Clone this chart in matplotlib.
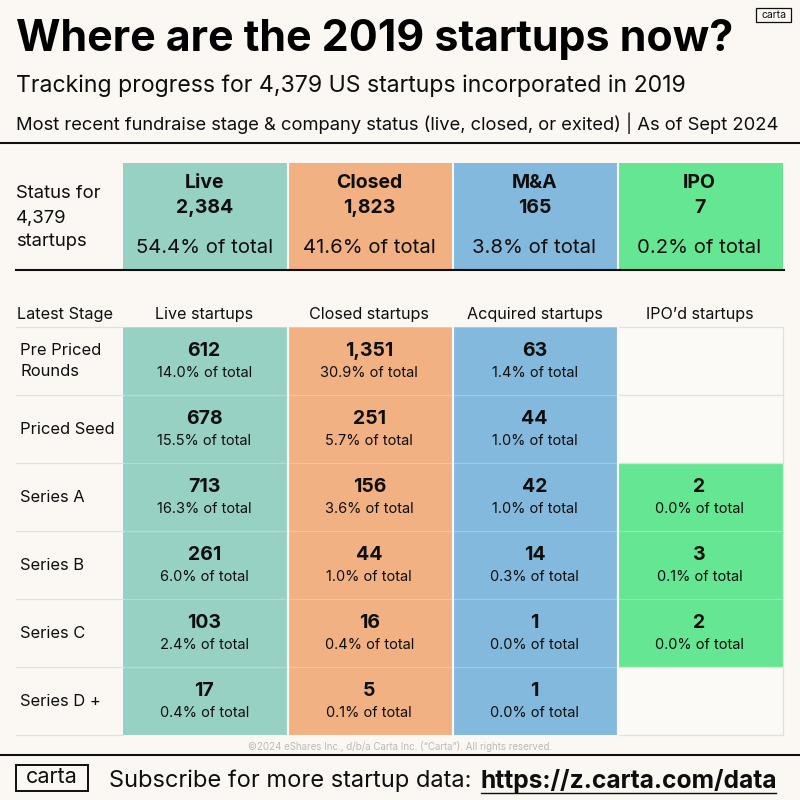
import matplotlib
matplotlib.use("Agg")
from matplotlib import pyplot as plt
from matplotlib.patches import Rectangle

plt.rcParams["font.family"] = ["Inter", "DejaVu Sans"]

BG = "#FBF8F4"
INK = "#0E0E0E"
GRID = "#E4E1DC"

statuses = ["Live", "Closed", "M&A", "IPO"]
status_colors = ["#97D1C4", "#F1B182", "#82B9DC", "#64E692"]
status_counts = ["2,384", "1,823", "165", "7"]
status_shares = ["54.4%", "41.6%", "3.8%", "0.2%"]

col_heads = ["Live startups", "Closed startups", "Acquired startups", "IPO’d startups"]
stages = ["Pre Priced\nRounds", "Priced Seed", "Series A", "Series B", "Series C", "Series D +"]

live_counts = ["612", "678", "713", "261", "103", "17"]
live_shares = ["14.0%", "15.5%", "16.3%", "6.0%", "2.4%", "0.4%"]
closed_counts = ["1,351", "251", "156", "44", "16", "5"]
closed_shares = ["30.9%", "5.7%", "3.6%", "1.0%", "0.4%", "0.1%"]
acquired_counts = ["63", "44", "42", "14", "1", "1"]
acquired_shares = ["1.4%", "1.0%", "1.0%", "0.3%", "0.0%", "0.0%"]
ipo_counts = [None, None, "2", "3", "2", None]
ipo_shares = [None, None, "0.0%", "0.1%", "0.0%", None]

table_counts = [live_counts, closed_counts, acquired_counts, ipo_counts]
table_shares = [live_shares, closed_shares, acquired_shares, ipo_shares]

col_x = [123, 287.5, 453, 618, 783]
row_y = [327, 395, 463, 531, 599, 667, 735]

fig = plt.figure(figsize=(8, 8), dpi=100, facecolor=BG)
ax = fig.add_axes([0, 0, 1, 1])
ax.set_xlim(0, 800)
ax.set_ylim(800, 0)
ax.axis("off")


def box(x0, y0, x1, y1, **kw):
    ax.add_patch(Rectangle((x0, y0), x1 - x0, y1 - y0, **kw))


def label(x, y, s, size, weight="normal", ha="center", color=INK, **kw):
    return ax.text(x, y, s, fontsize=size, fontweight=weight, ha=ha, va="center",
                   color=color, **kw)


# header
label(16, 40, "Where are the 2019 startups now?", 30.9, "bold", ha="left", color="#000000")
label(16, 86, "Tracking progress for 4,379 US startups incorporated in 2019", 16.6, ha="left")
label(16, 123, "Most recent fundraise stage & company status (live, closed, or exited) | As of Sept 2024",
      13.25, ha="left")
ax.plot([0, 800], [143, 143], color=INK, lw=1.5)

# small logo
box(756, 8, 791, 22, fc=BG, ec=INK, lw=0.9)
label(773.5, 14.5, "carta", 7.5)

# status summary band
label(16, 194, "Status for", 13.3, ha="left")
label(16, 218, "4,379", 13.3, ha="left")
label(16, 242, "startups", 13.3, ha="left")
for i, name in enumerate(statuses):
    x0, x1 = col_x[i], col_x[i + 1]
    xc = (x0 + x1) / 2 - 1
    box(x0, 163, x1, 269, fc=status_colors[i], ec="none")
    label(xc, 183, name, 14, "bold")
    label(xc, 208, status_counts[i], 14, "bold")
    label(xc, 248, f"{status_shares[i]} of total", 14.6)
    if i:
        ax.plot([x0, x0], [163, 269], color=BG, lw=1.5)
ax.plot([16, 784], [270, 270], color=INK, lw=1.5)

# stage table
label(17, 314, "Latest Stage", 11.7, ha="left")
for i, head in enumerate(col_heads):
    label((col_x[i] + col_x[i + 1]) / 2 - 1, 314, head, 11.6)

for i in range(4):
    for r in range(6):
        x0, x1 = col_x[i], col_x[i + 1]
        y0, y1 = row_y[r], row_y[r + 1]
        xc = (x0 + x1) / 2 - 1
        if table_counts[i][r] is None:
            box(x0, y0, x1, y1, fc="#FCFAF7", ec="none")
            continue
        box(x0, y0, x1, y1, fc=status_colors[i], ec="none")
        label(xc, y0 + 24.5, table_counts[i][r], 14, "bold")
        label(xc, y0 + 46, f"{table_shares[i][r]} of total", 10.5)

# row rules run faint over the coloured cells
for y in row_y:
    ax.plot([16, 123], [y, y], color=GRID, lw=0.9)
    ax.plot([123, 783], [y, y], color="#FFFFFF", alpha=0.25, lw=0.9)
for r in [0, 1, 2, 5, 6]:
    ax.plot([618, 783], [row_y[r], row_y[r]], color=GRID, lw=0.9)
for x in col_x[1:4]:
    ax.plot([x, x], [row_y[0], row_y[-1]], color=BG, lw=1.6)
ax.plot([783, 783], [row_y[0], row_y[-1]], color=GRID, lw=0.9)

for r, stage in enumerate(stages):
    label(20, (row_y[r] + row_y[r + 1]) / 2 + (0 if "\n" in stage else 1), stage, 11.9, ha="left",
          linespacing=1.45)

# footer
label(400, 746, "©2024 eShares Inc., d/b/a Carta Inc. (“Carta”). All rights reserved.", 7.0,
      color="#BDBAB5")
ax.plot([0, 800], [755, 755], color=INK, lw=1.5)
box(16, 765, 88, 791, fc=BG, ec=INK, lw=1.4)
label(52, 777, "carta", 15.5)
label(109, 781, "Subscribe for more startup data:", 17, ha="left")
label(481, 781, "https://z.carta.com/data", 17.7, "bold", ha="left")
ax.plot([481, 776], [793, 793], color=INK, lw=1.0)

fig.savefig("out.png", dpi=100, facecolor=BG)
plt.close(fig)
